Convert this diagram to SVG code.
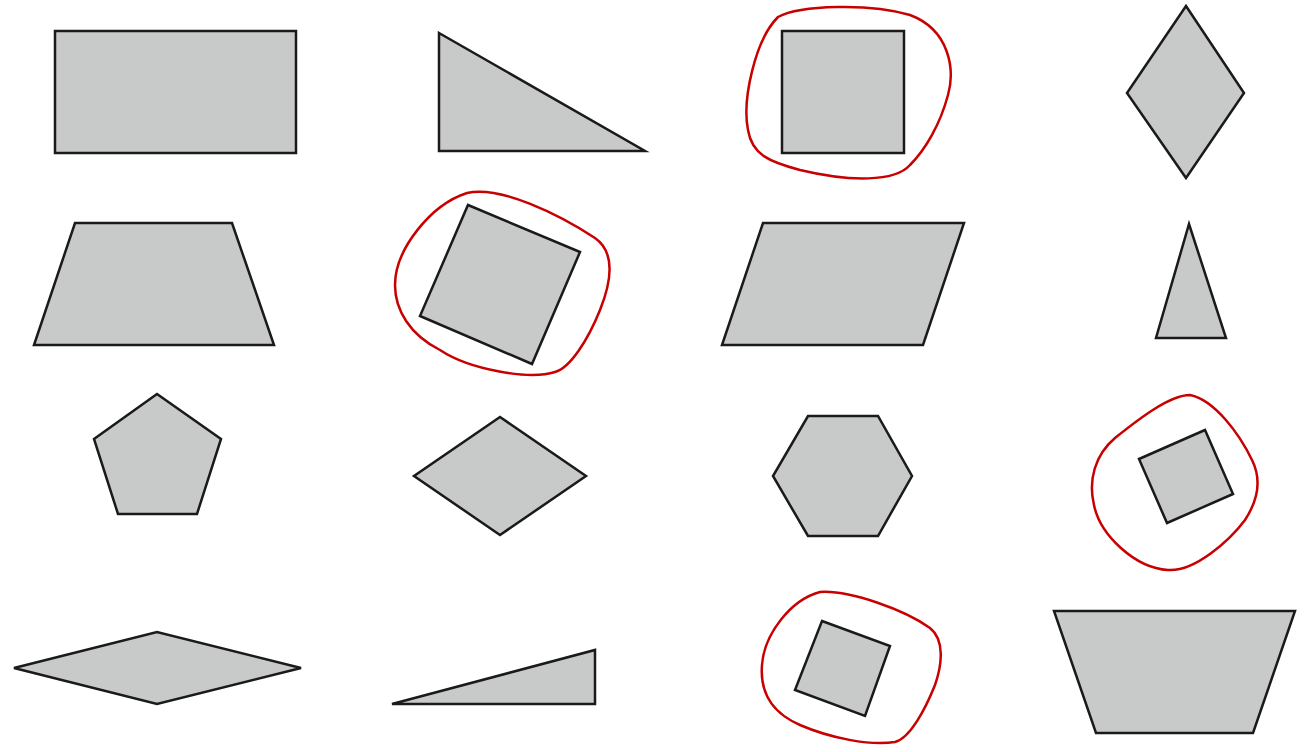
<svg xmlns="http://www.w3.org/2000/svg" width="1304" height="752" viewBox="0 0 1304 752">
<style>
.s{fill:#c8cac9;stroke:#1a1a1a;stroke-width:2.5;stroke-linejoin:miter}
.b{fill:none;stroke:#c80000;stroke-width:2.5}
</style>
<rect width="1304" height="752" fill="#ffffff"/>
<g id="rect1"><polygon class="s" points="55,31 296,31 296,153 55,153"/></g>
<g id="tri1"><polygon class="s" points="439,33 645,151 439,151"/></g>
<g id="sq1"><polygon class="s" points="782,31 904,31 904,153 782,153"/><path class="b" d="M778,17 C800,5 870,3 910,15 C950,30 955,70 948,95 C940,125 925,150 910,165 C895,182 850,182 800,170 C770,162 752,155 748,130 C742,100 755,40 778,17 Z"/></g>
<g id="dia1"><polygon class="s" points="1186,6 1244,93 1186,178 1127,93"/></g>
<g id="trap1"><polygon class="s" points="75,223 232,223 274,345 34,345"/></g>
<g id="sq2"><polygon class="s" points="468,205 580,252 532,364 420,316"/><path class="b" d="M467,193 C500,185 560,215 595,238 C615,252 612,280 600,310 C588,340 570,368 555,372 C530,380 470,370 440,350 C410,335 395,310 395,285 C395,250 430,205 467,193 Z"/></g>
<g id="para1"><polygon class="s" points="763,223 964,223 923,345 722,345"/></g>
<g id="tri2"><polygon class="s" points="1189,224 1226,338 1156,338"/></g>
<g id="pent"><polygon class="s" points="157,394 221,439 197,514 118,514 94,439"/></g>
<g id="dia2"><polygon class="s" points="500,417 586,476 500,535 414,476"/></g>
<g id="hex"><polygon class="s" points="808,416 878,416 912,476 878,536 808,536 773,476"/></g>
<g id="sq3"><polygon class="s" points="1139,459 1205,430 1233,494 1167,523"/><path class="b" d="M1190,395 C1215,400 1240,435 1252,460 C1262,480 1258,500 1245,520 C1230,540 1195,572 1168,570 C1135,568 1100,535 1094,505 C1088,480 1095,455 1115,438 C1140,418 1170,395 1190,395 Z"/></g>
<g id="dia3"><polygon class="s" points="14,668 157,632 301,668 157,704"/></g>
<g id="tri3"><polygon class="s" points="392,704 595,650 595,704"/></g>
<g id="sq4"><polygon class="s" points="822,621 890,646 865,716 795,690"/><path class="b" d="M820,592 C850,590 905,610 930,628 C945,640 942,665 935,685 C925,710 910,738 895,742 C870,746 830,738 800,725 C770,712 760,690 762,665 C764,635 790,600 820,592 Z"/></g>
<g id="trap2"><polygon class="s" points="1054,611 1295,611 1253,733 1096,733"/></g>
<g id="connectors"></g>
</svg>
